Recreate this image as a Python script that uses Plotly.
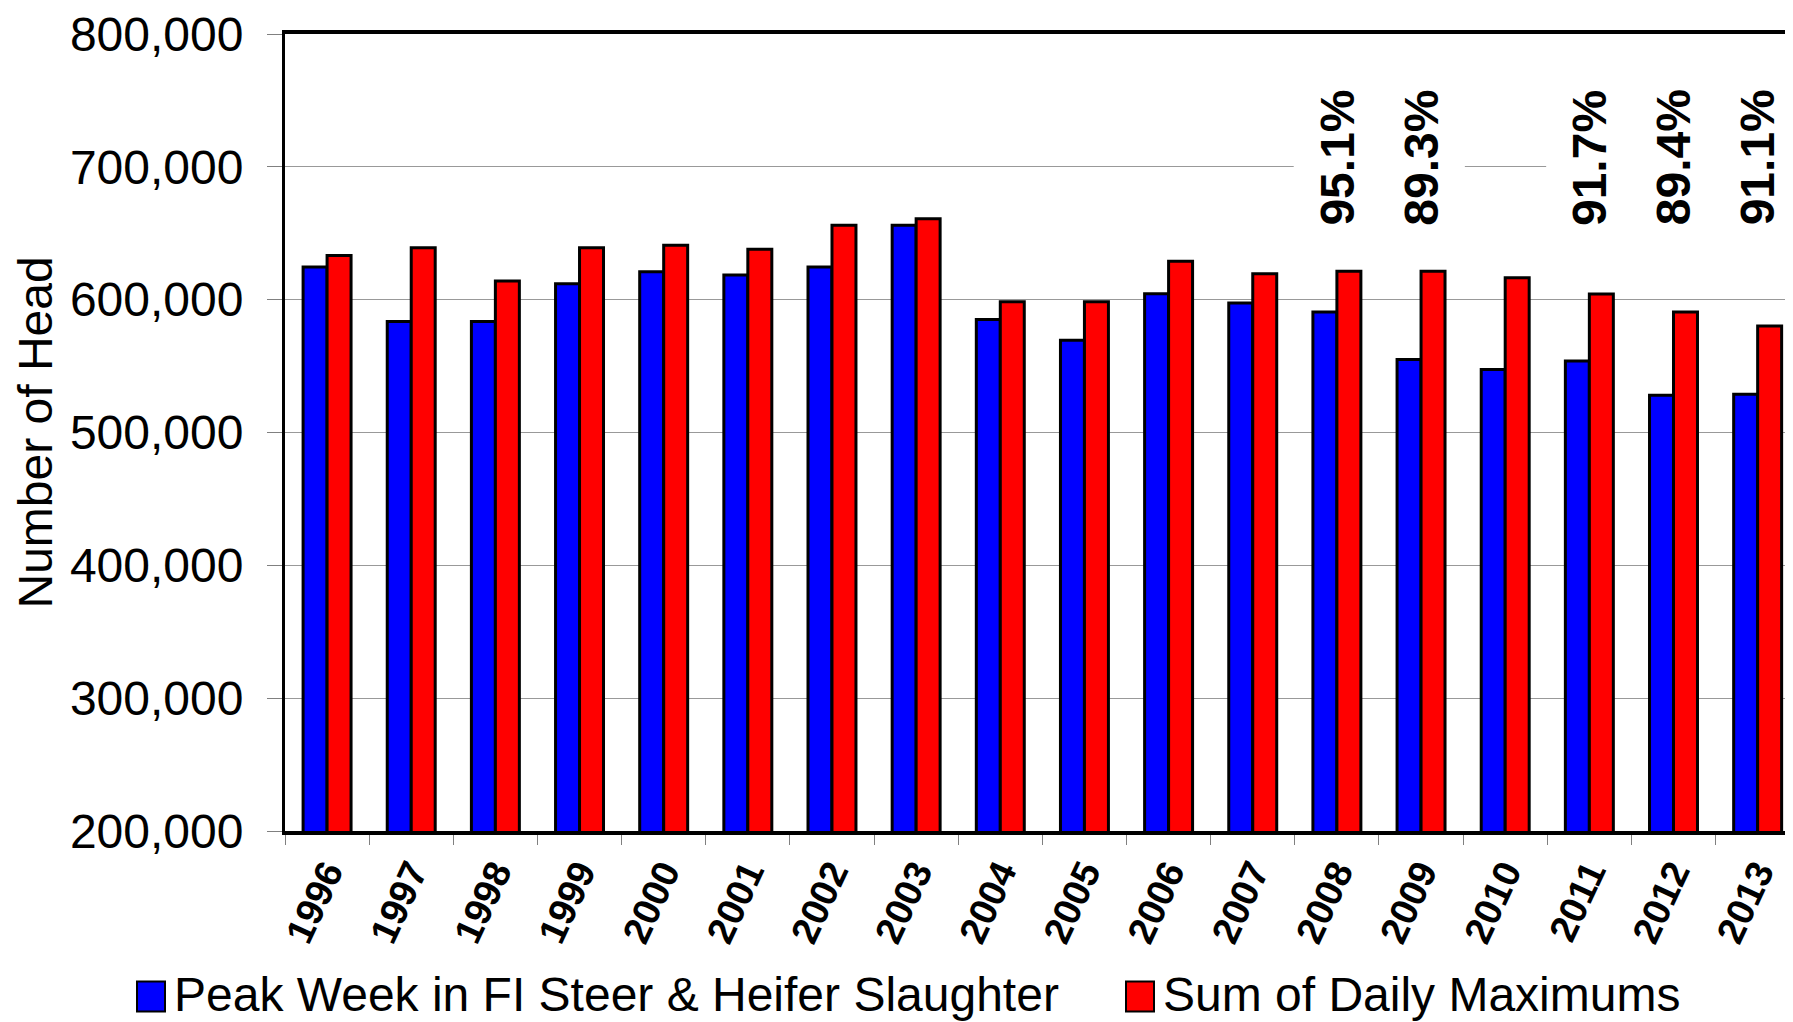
import plotly.graph_objects as go

# data
years = [str(y) for y in range(1996, 2014)]
peak_week = [624500, 583500, 583500, 612000, 621000, 618500, 624500, 656000, 585000,
             569500, 604500, 597500, 590700, 554900, 547500, 553900, 528100, 528800]
daily_max_sum = [633300, 639000, 614000, 639000, 641000, 638000, 656000, 661000, 598500,
                 598500, 629000, 619500, 621300, 621300, 616500, 604300, 590700, 580200]
pct_years = ['2008', '2009', '2011', '2012', '2013']
pct_labels = ['95.1%', '89.3%', '91.7%', '89.4%', '91.1%']

# page is 1793x1022, browser body margin is 8px
OFF = 8
W, H = 1793 - OFF, 1022 - OFF
PLOT_L, PLOT_T, PLOT_B = 285, 32, 831   # plot area in page pixels
FONT = "Liberation Sans, Arial, sans-serif"


def px(x):
    # page pixel -> paper x
    return (x - PLOT_L) / (1793 - PLOT_L)


def py(y):
    # page pixel -> paper y
    return (PLOT_B - y) / (PLOT_B - PLOT_T)


fig = go.Figure()

fig.add_trace(go.Bar(
    x=years, y=peak_week, name='Peak Week in FI Steer & Heifer Slaughter',
    marker=dict(color='#0000FF', line=dict(color='black', width=3)),
    showlegend=False
))
fig.add_trace(go.Bar(
    x=years, y=daily_max_sum, name='Sum of Daily Maximums',
    marker=dict(color='#FF0000', line=dict(color='black', width=3)),
    showlegend=False
))

# percentage labels (white boxes hide the gridline behind them)
for yr, lab in zip(pct_years, pct_labels):
    fig.add_annotation(
        x=years.index(yr), xref='x', y=py(156), yref='paper',
        text=lab, textangle=-90, showarrow=False,
        font=dict(family=FONT, size=48, color='black', weight='bold'),
        bgcolor='white', height=84, yanchor='middle', xanchor='center'
    )

# y axis title
fig.add_annotation(
    x=px(35), xref='paper', y=0.5, yref='paper',
    text='Number of Head', textangle=-90, showarrow=False,
    font=dict(family=FONT, size=48, color='black'),
    xanchor='center', yanchor='middle'
)

# legend drawn by hand so the swatches can be big
legend_items = [('#0000FF', 'Peak Week in FI Steer & Heifer Slaughter', 137),
                ('#FF0000', 'Sum of Daily Maximums', 1126)]
for color, label, x0 in legend_items:
    fig.add_shape(type='rect', xref='paper', yref='paper',
                  x0=px(x0), x1=px(x0 + 28), y0=py(1012), y1=py(982),
                  fillcolor=color, line=dict(color='black', width=2))
    fig.add_annotation(
        x=px(x0 + 35), xref='paper', y=py(995), yref='paper',
        text=label, showarrow=False, xanchor='left', yanchor='middle',
        font=dict(family=FONT, size=48, color='black')
    )

fig.update_layout(
    width=W, height=H,
    margin=dict(l=PLOT_L - OFF, r=0, t=PLOT_T - OFF, b=1022 - PLOT_B, pad=0),
    plot_bgcolor='white', paper_bgcolor='white',
    barmode='group', bargap=0.43, bargroupgap=0,
    font=dict(family=FONT, color='black'),
    showlegend=False
)
fig.update_xaxes(
    type='category', range=[-0.5, 17.42],
    tickson='boundaries', ticks='outside', ticklen=10, tickcolor='#808080', tickwidth=1,
    showline=True, linecolor='black', linewidth=4, mirror=True,
    showgrid=False, tickangle=-65, ticklabelstandoff=0,
    tickfont=dict(family=FONT, size=38, color='black', weight='bold')
)
fig.update_yaxes(
    range=[200000, 800000], dtick=100000, tickformat=',d',
    showgrid=True, gridcolor='#999999', gridwidth=1, zeroline=False,
    ticks='outside', ticklen=15, tickcolor='#808080', tickwidth=1,
    showline=True, linecolor='black', linewidth=3,
    ticklabelstandoff=14, ticklabeloverflow='allow',
    tickfont=dict(family=FONT, size=48, color='black')
)

fig.write_html("out.html")
